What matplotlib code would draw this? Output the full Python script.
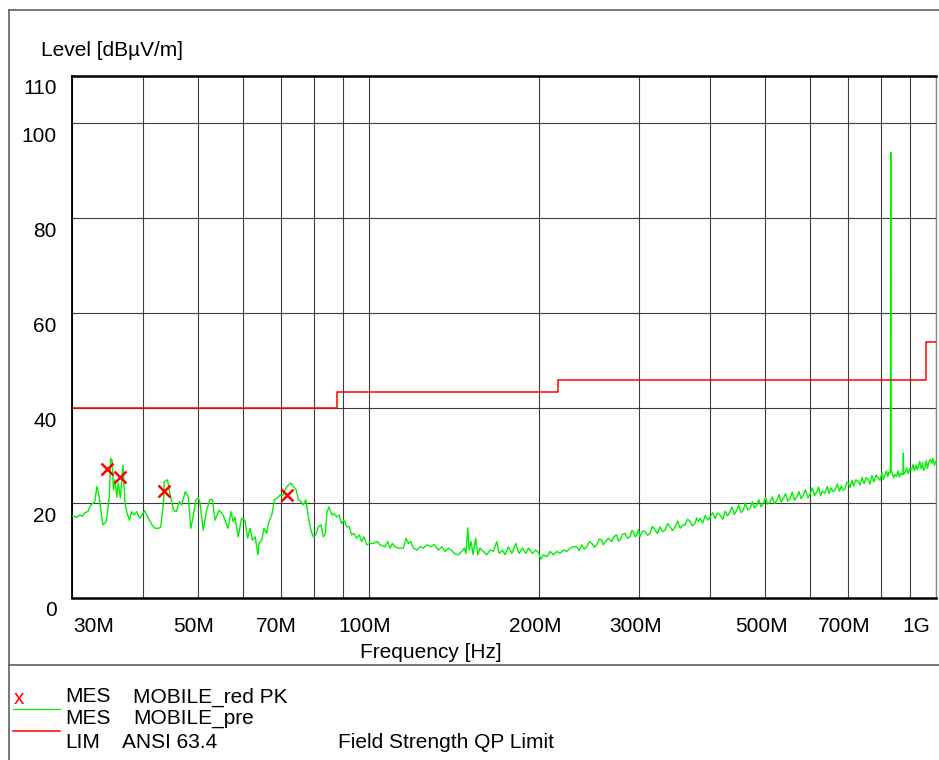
# Grafico de emissao irradiada (nivel x frequencia), estilo relatorio EMC
import matplotlib
matplotlib.use("Agg")
import matplotlib.pyplot as plt
from matplotlib.lines import Line2D
from matplotlib.transforms import ScaledTranslation
from matplotlib.ticker import NullLocator

plt.rcParams["font.family"] = ["Liberation Sans", "DejaVu Sans"]

# traco de pre-varredura (MHz, dBuV/m)
freq_pre = [
    30.0, 30.6, 31.0, 31.3, 31.6, 32.0, 32.2, 32.4, 32.7, 32.9, 33.2, 33.35, 33.5,
    34.0, 34.5, 34.9, 35.1, 35.3, 35.5, 35.7, 36.0, 36.2, 36.5, 36.7, 36.9, 37.2,
    37.5, 37.9, 38.2, 38.6, 39.0, 39.5, 40.3, 40.9, 41.5, 42.0, 42.6, 43.0, 43.5,
    43.6, 44.2, 44.6, 45.3, 45.8, 46.4, 46.8, 47.5, 48.1, 48.6, 49.1, 49.6, 50.1,
    50.4, 51.1, 51.8, 52.5, 53.0, 53.6, 54.5, 55.4, 56.5, 57.2, 57.7, 58.1, 58.9,
    59.7, 60.5, 61.2, 61.8, 62.4, 63.1, 63.8, 64.1, 64.8, 65.4, 66.1, 66.7, 67.5,
    68.2, 68.9, 69.8, 70.7, 71.4, 72.2, 72.9, 73.7, 74.5, 75.2, 76.0, 76.7, 77.5,
    78.3, 79.1, 79.9, 80.7, 81.5, 82.4, 83.2,
    83.8, 84.5, 85.1, 86.1, 86.9, 87.8, 88.7, 89.6, 90.5, 91.5, 92.4, 93.3, 94.2,
    95.2, 96.3, 97.2, 98.1, 99.2, 100.3, 101.9, 103.6, 104.7, 106.9, 108.1, 109.1,
    110.1, 111.3, 112.8, 115.1, 116.4, 117.5, 118.6, 119.9, 121.6, 123.2, 124.9,
    126.6, 128.7, 130.4, 132.7, 134.6, 136.4, 138.2,
    140.1, 142.0, 143.9, 145.9, 147.5, 148.5, 149.5, 150.3, 151.5, 152.8, 154.4,
    155.7, 157.2, 159.3, 161.5, 163.7, 165.9, 168.2, 169.8, 172.1, 174.0, 176.3,
    178.8, 181.7, 184.1, 186.7, 189.3, 191.2, 194.4, 197.1, 199.2, 201.1, 203.3,
    206.1, 208.9, 211.7, 214.6, 217.5, 220.4, 223.4, 226.4, 229.5,
    232.6, 235.0, 237.4, 240.0, 242.3, 245.0, 247.3, 250.0, 252.4, 255.0, 257.5,
    259.2, 262.0, 264.5, 268.2, 271.0, 273.7, 275.5, 277.4, 280.0, 283.1, 286.0,
    288.9, 291.0, 292.8, 294.8, 296.9, 299.0, 300.8, 304.0, 307.0, 310.0, 313.3,
    316.5, 319.8, 323.0, 326.3, 329.5, 333.0, 336.5, 339.8, 343.0, 346.8, 350.5,
    354.0, 357.5, 361.2, 365.0, 368.6, 372.0, 376.1, 378.5, 381.2, 383.8, 388.0,
    392.0, 396.0, 399.7, 404.0, 408.0, 412.0, 416.3, 421.0, 425.0, 429.0, 433.5,
    437.0, 441.0, 445.5, 449.0, 453.0, 457.6, 461.0, 465.5, 470.2, 474.5, 478.5,
    483.3, 487.0, 492.0, 496.6, 500.5, 505.0, 510.1, 514.5, 519.0, 524.2, 529.0,
    533.5, 538.3, 543.0, 548.0, 553.1, 558.0, 563.0, 568.3, 573.5, 578.5, 583.9,
    589.0, 594.5, 599.9, 605.5, 611.0, 616.4, 621.0, 626.0, 631.0, 637.6, 643.0,
    648.0, 653.5, 659.0, 664.0, 670.0, 676.0, 681.0, 686.0, 691.6, 696.0, 700.8,
    706.0, 711.0, 716.0, 722.0, 729.7, 735.0, 741.0, 747.0, 753.0, 759.8, 765.0,
    771.0, 777.0, 784.0, 791.3, 797.0, 803.0, 808.0, 813.2, 818.0, 822.0, 826.0,
    829.9, 831.0, 832.2, 833.5, 837.6, 842.0, 847.0, 852.6, 857.0, 862.0, 867.6,
    872.0, 875.0, 875.9, 877.0, 881.9, 887.0, 893.0, 899.0, 906.2, 911.0, 916.0,
    922.0, 927.0, 930.9, 936.0, 942.0, 947.0, 951.0, 956.5, 961.0, 966.0, 971.0,
    977.0, 982.8, 987.0, 993.3, 1000.0,
]
nivel_pre = [
    17.3, 17.0, 17.5, 17.2, 18.0, 18.2, 19.0, 19.6, 20.0, 20.3, 23.5, 22.5, 21.3,
    15.4, 16.1, 21.3, 29.4, 29.1, 22.8, 24.9, 21.3, 24.2, 21.1, 24.2, 28.0, 20.0,
    17.9, 16.4, 18.2, 17.5, 18.2, 16.8, 18.4, 16.8, 15.4, 14.7, 14.7, 14.9, 20.3,
    24.5, 24.9, 22.1, 18.5, 18.2, 20.3, 19.6, 22.4, 21.3, 14.7, 17.5, 20.7, 21.0,
    20.3, 14.3, 18.5, 20.7, 20.8, 16.4, 18.5, 17.5, 14.7, 18.2, 16.1, 17.1, 12.9,
    16.8, 16.4, 12.6, 14.7, 12.2, 12.9, 9.1, 11.5, 12.2, 14.7, 13.6, 16.1, 17.5,
    20.7, 21.0, 21.7, 21.7, 23.1, 23.8, 24.2, 23.5, 22.8, 20.7, 20.3, 19.6, 20.7,
    17.1, 14.3, 12.9, 13.3, 15.0, 15.4, 12.9,
    13.3, 18.2, 19.2, 17.5, 17.8, 17.1, 17.5, 15.7, 16.4, 15.0, 15.0, 13.3, 13.6,
    12.6, 13.3, 11.9, 12.9, 11.2, 11.5, 11.5, 11.9, 11.2, 10.8, 11.9, 10.5,
    11.5, 10.8, 10.5, 10.5, 12.6, 11.5, 11.9, 10.5, 10.1, 10.8, 10.5,
    11.2, 10.8, 11.3, 10.1, 10.8, 9.8, 10.5,
    10.0, 9.3, 9.1, 9.8, 10.5, 9.4, 14.8, 10.1, 11.9, 9.1, 12.6,
    9.1, 10.5, 9.8, 9.1, 10.1, 9.8, 11.9, 9.4, 10.1, 9.1, 10.8,
    9.4, 11.5, 9.4, 10.5, 9.4, 10.5, 9.4, 10.1, 9.6, 8.2, 9.1,
    8.7, 9.8, 9.1, 9.8, 9.4, 10.1, 9.8, 10.5, 10.8,
    10.8, 10.0, 11.2, 10.3, 10.8, 11.9, 11.5, 10.7, 11.2, 12.4, 12.2,
    11.2, 12.0, 12.6, 11.9, 13.0, 13.3, 12.0, 12.2, 13.4, 13.6, 12.6,
    12.9, 14.2, 14.0, 12.9, 13.3, 14.4, 12.9, 14.1, 14.0, 13.2, 13.6,
    15.1, 14.3, 13.6, 15.0, 14.0, 14.3, 15.7, 15.0, 14.2, 15.0, 16.2,
    14.7, 15.3, 15.4, 16.6, 16.1, 15.2, 15.7, 16.9, 16.1, 16.8, 15.8,
    17.4, 16.4, 17.0, 18.0, 16.7, 17.9, 17.5, 16.6, 18.3, 17.3, 18.2,
    19.2, 17.6, 18.5, 19.6, 18.0, 18.5, 20.0, 18.6, 18.9, 20.3, 19.0,
    19.6, 20.7, 19.2, 20.0, 21.2, 19.8, 20.3, 21.3, 19.9, 20.5, 21.8,
    20.2, 21.0, 22.0, 20.4, 21.0, 22.3, 20.6, 21.3, 22.4, 20.9, 21.7,
    22.8, 21.1, 21.9, 23.2, 21.6, 22.4, 23.4, 21.5, 22.5, 22.1, 23.5,
    22.0, 23.2, 22.4, 22.8, 24.0, 22.5, 23.6, 22.7, 23.1, 24.4, 24.2,
    23.3, 24.8, 23.6, 24.9, 24.5, 23.8, 25.4, 24.1, 25.4, 24.9, 24.0,
    25.8, 24.5, 25.9, 25.3, 24.8, 26.4, 25.0, 25.9, 26.8, 25.6, 26.5,
    26.3, 26.8, 93.9, 26.8, 26.3, 25.3, 26.0, 25.6, 26.8, 25.5, 26.3,
    26.0, 26.2, 30.5, 26.1, 26.3, 27.4, 26.2, 27.2, 27.0, 28.1, 26.8,
    28.0, 27.0, 27.7, 28.8, 27.2, 28.5, 26.9, 27.4, 28.9, 27.3, 28.6,
    29.2, 28.4, 29.4, 28.0, 28.8,
]

# limite QP (degraus)
freq_lim = [30, 88, 216, 960, 1000]
nivel_lim = [40, 43.5, 46, 54, 54]

# medidas de pico (marcadores x)
freq_pk = [34.6, 36.5, 43.6, 71.7]
nivel_pk = [27.1, 25.4, 22.6, 21.7]

xticks = [30, 40, 50, 60, 70, 80, 90, 100, 200, 300, 400, 500, 600, 700, 800, 900, 1000]
xlabels = ["30M", "", "50M", "", "70M", "", "", "100M", "200M", "300M", "",
           "500M", "", "700M", "", "", "1G"]
yticks = [0, 20, 40, 60, 80, 100, 110]

W, H = 939, 760
FS = 15
GRID = "#3c3c3c"
FRAME = "#606060"
VERDE = "#00f000"


def fx(x):
    return x / W


def fy(y):
    return 1 - y / H


fig = plt.figure(figsize=(W / 100, H / 100), dpi=100)
ax = fig.add_axes([fx(72), fy(598), 864 / W, 522 / H])

ax.plot(freq_pre, nivel_pre, color=VERDE, lw=1.0, zorder=3)
ax.plot(freq_lim, nivel_lim, color="#ff0000", lw=1.1, drawstyle="steps-post", zorder=4)
ax.plot(freq_pk, nivel_pk, ls="none", marker="x", ms=8.5, mew=1.8, color="#ff0000", zorder=5)

ax.set_xscale("log")
ax.set_xlim(30, 1000)
ax.set_ylim(0, 110)
ax.set_xticks(xticks)
ax.set_xticklabels(xlabels, fontsize=FS)
ax.xaxis.set_minor_locator(NullLocator())
ax.set_yticks(yticks)
ax.set_yticklabels([str(v) for v in yticks], fontsize=FS)
ax.tick_params(axis="both", length=0)
ax.tick_params(axis="x", pad=14)
ax.tick_params(axis="y", pad=11)
ax.grid(True, color=GRID, lw=0.8)
ax.set_axisbelow(True)

for lado in ["top", "bottom"]:
    ax.spines[lado].set_linewidth(1.8)
    ax.spines[lado].set_color("black")
ax.spines["left"].set_linewidth(1.3)
ax.spines["left"].set_color("black")
ax.spines["right"].set_linewidth(1.0)
ax.spines["right"].set_color("#888888")

# deslocamentos dos rotulos (em pixels)
for lbl in ax.get_yticklabels():
    lbl.set_transform(lbl.get_transform() + ScaledTranslation(0, -11 / 100, fig.dpi_scale_trans))
desloc_x = {"30M": 22, "1G": -20}
for lbl in ax.get_xticklabels():
    dx = desloc_x.get(lbl.get_text(), -4)
    lbl.set_transform(lbl.get_transform() + ScaledTranslation(dx / 100, 0, fig.dpi_scale_trans))

fig.text(fx(41), fy(50), "Level [dBµV/m]", fontsize=FS, va="center", ha="left")
fig.text(fx(360), fy(652), "Frequency [Hz]", fontsize=FS, va="center", ha="left")

# moldura
fig.add_artist(Line2D([fx(8.5), 1], [fy(10), fy(10)], color=FRAME, lw=1.2, transform=fig.transFigure))
fig.add_artist(Line2D([fx(8.5), fx(8.5)], [fy(10), 0], color=FRAME, lw=1.2, transform=fig.transFigure))
fig.add_artist(Line2D([fx(8.5), 1], [fy(665), fy(665)], color=FRAME, lw=1.2, transform=fig.transFigure))

# legenda
fig.text(fx(14), fy(699), "x", fontsize=FS, color="#ff0000", va="center", ha="left")
fig.add_artist(Line2D([fx(13), fx(60)], [fy(709), fy(709)], color=VERDE, lw=0.9, transform=fig.transFigure))
fig.add_artist(Line2D([fx(13), fx(60)], [fy(731), fy(731)], color="#ff0000", lw=1.1, transform=fig.transFigure))
linhas = [
    (697, [(65, "MES"), (133, "MOBILE_red PK")]),
    (719, [(65, "MES"), (133, "MOBILE_pre")]),
    (742, [(65, "LIM"), (122, "ANSI 63.4"), (338, "Field Strength QP Limit")]),
]
for y, partes in linhas:
    for x, txt in partes:
        fig.text(fx(x), fy(y), txt, fontsize=FS, va="center", ha="left")

fig.savefig("out.png", dpi=100)
